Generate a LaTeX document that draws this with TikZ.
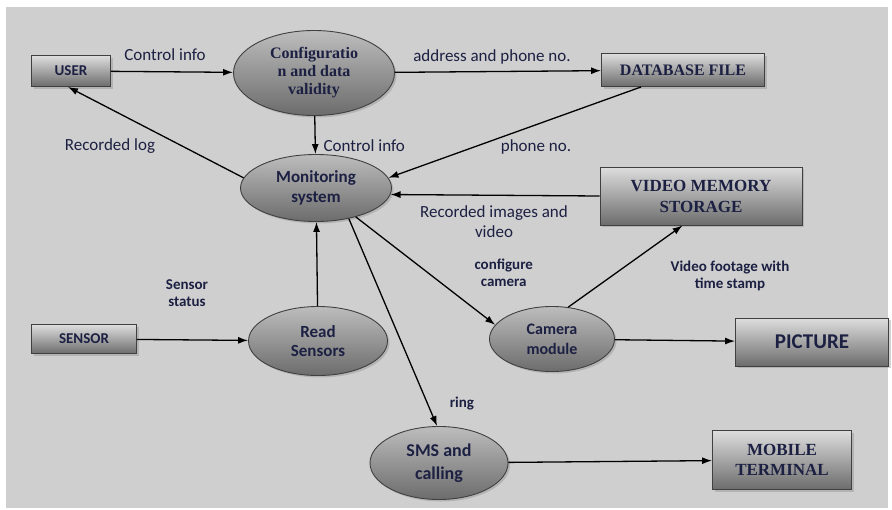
\documentclass[tikz,border=0pt]{standalone}
\usepackage{fontspec}
\setmainfont{Carlito}
\newfontfamily\serifbf{Liberation Serif}
\usetikzlibrary{arrows.meta,shapes.geometric,shadows,positioning}
\definecolor{bggray}{RGB}{207,207,207}
\definecolor{inkblue}{RGB}{28,32,66}
\definecolor{shadetop}{RGB}{222,222,222}
\definecolor{shadebot}{RGB}{108,108,108}
\tikzset{>={Latex[length=10pt,width=7pt]},
  proc/.style={ellipse,draw=black!75,line width=0.9pt,inner sep=0pt,
    align=center,text=inkblue,top color=shadetop!85!black,bottom color=shadebot,
    drop shadow={shadow xshift=2pt,shadow yshift=-2pt,opacity=.35}},
  store/.style={rectangle,draw=black!75,line width=0.9pt,inner sep=0pt,
    align=center,text=inkblue,top color=shadetop,bottom color=shadebot,
    drop shadow={shadow xshift=2pt,shadow yshift=-2pt,opacity=.35}},
  lbl/.style={text=inkblue,align=center,font=\fontsize{17}{20}\selectfont},
  lblb/.style={text=inkblue,align=center,font=\bfseries\fontsize{15}{17.5}\selectfont},
  flow/.style={->,line width=1.3pt}}

\begin{document}
\begin{tikzpicture}[x=1pt,y=-1pt]
\useasboundingbox (0,0) rectangle (892,509);
\fill[bggray] (6,7) rectangle (888,508);
% processes
\node[proc,minimum width=161pt,minimum height=85pt,
  font=\serifbf\bfseries\fontsize{16}{18}\selectfont] (conf) at (314,73)
  {Configuratio\\n and data\\validity};
\node[proc,minimum width=151pt,minimum height=67pt,
  font=\bfseries\fontsize{17}{20}\selectfont] (mon) at (316,188)
  {Monitoring\\system};
\node[proc,minimum width=139pt,minimum height=69pt,
  font=\bfseries\fontsize{17}{18.5}\selectfont] (read) at (318,341)
  {Read\\Sensors};
\node[proc,minimum width=125pt,minimum height=65pt,
  font=\bfseries\fontsize{16}{20}\selectfont] (cam) at (552,339)
  {Camera\\module};
\node[proc,minimum width=138pt,minimum height=73pt,
  font=\bfseries\fontsize{18}{23}\selectfont] (sms) at (439,463)
  {SMS and\\calling};
% stores and terminals
\node[store,minimum width=79pt,minimum height=31pt,
  font=\bfseries\fontsize{15}{17}\selectfont] (user) at (71,71) {USER};
\node[store,minimum width=105pt,minimum height=29pt,
  font=\bfseries\fontsize{15}{17}\selectfont] (sensor) at (84,339) {SENSOR};
\node[store,minimum width=163pt,minimum height=33pt,
  font=\serifbf\bfseries\fontsize{16}{18}\selectfont] (db) at (683,70) {DATABASE FILE};
\node[store,minimum width=202pt,minimum height=58pt,
  font=\serifbf\bfseries\fontsize{17}{21}\selectfont] (video) at (701,196)
  {VIDEO MEMORY\\STORAGE};
\node[store,minimum width=153pt,minimum height=48pt,
  font=\bfseries\fontsize{21}{24}\selectfont] (pic) at (812,342) {PICTURE};
\node[store,minimum width=139pt,minimum height=59pt,
  font=\serifbf\bfseries\fontsize{17}{20}\selectfont] (mobile) at (782,460)
  {MOBILE\\TERMINAL};
% flows
\draw[flow] (user) -- (conf);
\draw[flow] (conf) -- (db);
\draw[flow] (conf) -- (mon);
\draw[flow] (mon.172) -- ([xshift=-3pt]user.south);
\draw[flow] ([xshift=40pt]db.south west) -- (mon.8);
\draw[flow] (video.west) -- (mon.-5);
\draw[flow] (read) -- (mon);
\draw[flow] (sensor) -- (read);
\draw[flow] (mon.-36) -- (cam.166);
\draw[flow] (mon.-43) -- (sms.93);
\draw[flow] (cam.63) -- ([xshift=83pt]video.south west);
\draw[flow] (cam) -- (pic);
\draw[flow] (sms) -- (mobile);
% labels
\node[lbl] (ctrl1) at (165,55) {Control info};
\node[lbl] (addr) at (492,57) {address and phone no.};
\node[lbl,anchor=west] (ctrl2) at (320,146) {Control info};
\node[lbl] (log) at (110,146) {Recorded log};
\node[lbl] (phone) at (536,147) {phone no.};
\node[lbl] (recimg) at (494,222) {Recorded images and\\video};
\node[lblb] (status) at (187,293) {Sensor\\status};
\node[lblb,anchor=west] (cfgcam) at (471,273) {configure\\camera};
\node[lblb] (footage) at (730,276) {Video footage with\\time stamp};
\node[lblb] (ring) at (462,404) {ring};
\end{tikzpicture}
\end{document}
